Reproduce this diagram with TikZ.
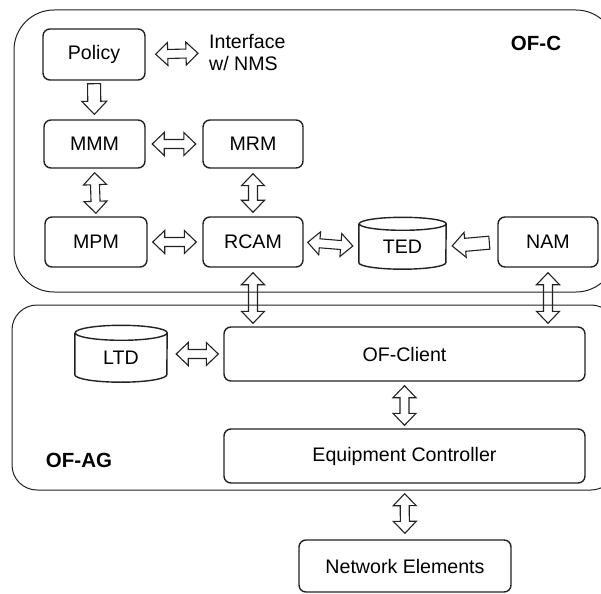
\documentclass[tikz,border=0pt]{standalone}
\usepackage{fontspec}
\setmainfont{Liberation Sans}
\usetikzlibrary{calc}
\definecolor{ink}{HTML}{222222}
\tikzset{
  hollow/.style={draw=ink, line width=1.1pt, line join=miter},
  box/.style={draw=ink, line width=1.4pt, rounded corners=7pt, inner sep=0pt, font=\fontsize{19.6}{22}\selectfont},
  dbnode/.style={inner sep=0pt, font=\fontsize{19.6}{22}\selectfont},
  container/.style={draw=ink, line width=1pt},
  grouplabel/.style={font=\fontsize{20.5}{24}\selectfont\bfseries, inner sep=0pt},
}
% two-headed hollow arrow between #1 and #2, gaps #3 and #4
\newcommand{\twoway}[4]{%
  \pgfmathsetmacro\arrGa{#3}\pgfmathsetmacro\arrGb{#4}%
  \pgfmathsetmacro\arrHa{#3+12}\pgfmathsetmacro\arrHb{#4+12}%
  \draw[hollow] ($(#1)!\arrGa pt!(#2)$)
    -- ($(#1)!\arrHa pt!(#2)!11.5pt!90:(#2)$)
    -- ($(#1)!\arrHa pt!(#2)!4.5pt!90:(#2)$)
    -- ($(#2)!\arrHb pt!(#1)!4.5pt!-90:(#1)$)
    -- ($(#2)!\arrHb pt!(#1)!11.5pt!-90:(#1)$)
    -- ($(#2)!\arrGb pt!(#1)$)
    -- ($(#2)!\arrHb pt!(#1)!11.5pt!90:(#1)$)
    -- ($(#2)!\arrHb pt!(#1)!4.5pt!90:(#1)$)
    -- ($(#1)!\arrHa pt!(#2)!4.5pt!-90:(#2)$)
    -- ($(#1)!\arrHa pt!(#2)!11.5pt!-90:(#2)$)
    -- cycle;}
% one-headed hollow arrow from #1 to #2
\newcommand{\oneway}[4]{%
  \pgfmathsetmacro\arrGa{#3}\pgfmathsetmacro\arrGb{#4}%
  \pgfmathsetmacro\arrHb{#4+13}%
  \draw[hollow] ($(#1)!\arrGa pt!(#2)!6.5pt!90:(#2)$)
    -- ($(#2)!\arrHb pt!(#1)!6.5pt!-90:(#1)$)
    -- ($(#2)!\arrHb pt!(#1)!12.5pt!-90:(#1)$)
    -- ($(#2)!\arrGb pt!(#1)$)
    -- ($(#2)!\arrHb pt!(#1)!12.5pt!90:(#1)$)
    -- ($(#2)!\arrHb pt!(#1)!6.5pt!90:(#1)$)
    -- ($(#1)!\arrGa pt!(#2)!6.5pt!-90:(#2)$)
    -- cycle;}
% cylinder outline around a node
\newcommand{\cyl}[3]{%
  \draw[draw=ink, line width=1.4pt] (#1.north west) -- ([yshift=#3]#1.south west)
    arc[start angle=180, end angle=360, x radius=#2, y radius=#3]
    -- (#1.north east)
    arc[start angle=0, end angle=360, x radius=#2, y radius=#3];}
\begin{document}
\begin{tikzpicture}[x=1pt,y=1pt]
\useasboundingbox (0,0) rectangle (601,-593);
% containers
\draw[container, rounded corners=40pt] (14,-10) rectangle (616,-292);
\draw[container, rounded corners=25pt] (12,-305) rectangle (616,-490);
\node[grouplabel] (ofc) at (536,-43) {OF-C};
\node[grouplabel] (ofag) at (79,-460) {OF-AG};
% OF-C nodes
\node[box, minimum width=102pt, minimum height=51pt] (policy) at (94,-54.5) {Policy};
\node[dbnode, anchor=west, align=left] (nms) at (209,-53) {Interface\\w/ NMS};
\node[box, minimum width=101pt, minimum height=48pt] (mmm) at (94.5,-144) {MMM};
\node[box, minimum width=100pt, minimum height=48pt] (mrm) at (253,-144) {MRM};
\node[box, minimum width=102pt, minimum height=50pt] (mpm) at (96,-242) {MPM};
\node[box, minimum width=100pt, minimum height=50pt] (rcam) at (253,-242) {RCAM};
\node[box, minimum width=100pt, minimum height=50pt] (nam) at (548,-242) {NAM};
\node[dbnode, minimum width=87pt, minimum height=45pt] (ted) at (402.5,-246.5) {TED};
\cyl{ted}{43.5pt}{6.5pt}
% OF-AG nodes
\node[dbnode, minimum width=92pt, minimum height=49pt] (ltd) at (121,-357.5) {LTD};
\cyl{ltd}{46pt}{7.5pt}
\node[box, minimum width=361pt, minimum height=54pt] (ofclient) at (404.5,-354) {OF-Client};
\node[box, minimum width=361pt, minimum height=54pt] (eqc) at (404.5,-456) {Equipment Controller};
\node[box, minimum width=212pt, minimum height=52pt] (ne) at (405,-566) {Network Elements};
% arrows
\twoway{policy.east}{nms.west}{10}{11}
\oneway{policy.south}{mmm.north}{3}{5}
\twoway{mmm.east}{mrm.west}{6.5}{6.5}
\twoway{mmm.south}{mpm.north}{4}{3}
\twoway{mrm.south}{rcam.north}{5}{4}
\twoway{mpm.east}{rcam.west}{5}{6}
\twoway{rcam.east}{ted.west}{4}{6}
\oneway{nam.west}{ted.east}{8}{6}
\twoway{rcam.south}{rcam.south |- ofclient.north}{5}{3}
\twoway{nam.south}{nam.south |- ofclient.north}{5}{3}
\twoway{ofclient.west -| ltd.east}{ofclient.west}{9}{5}
\twoway{ofclient.south}{eqc.north}{4}{3}
\twoway{eqc.south}{ne.north}{10}{6}
\end{tikzpicture}
\end{document}
